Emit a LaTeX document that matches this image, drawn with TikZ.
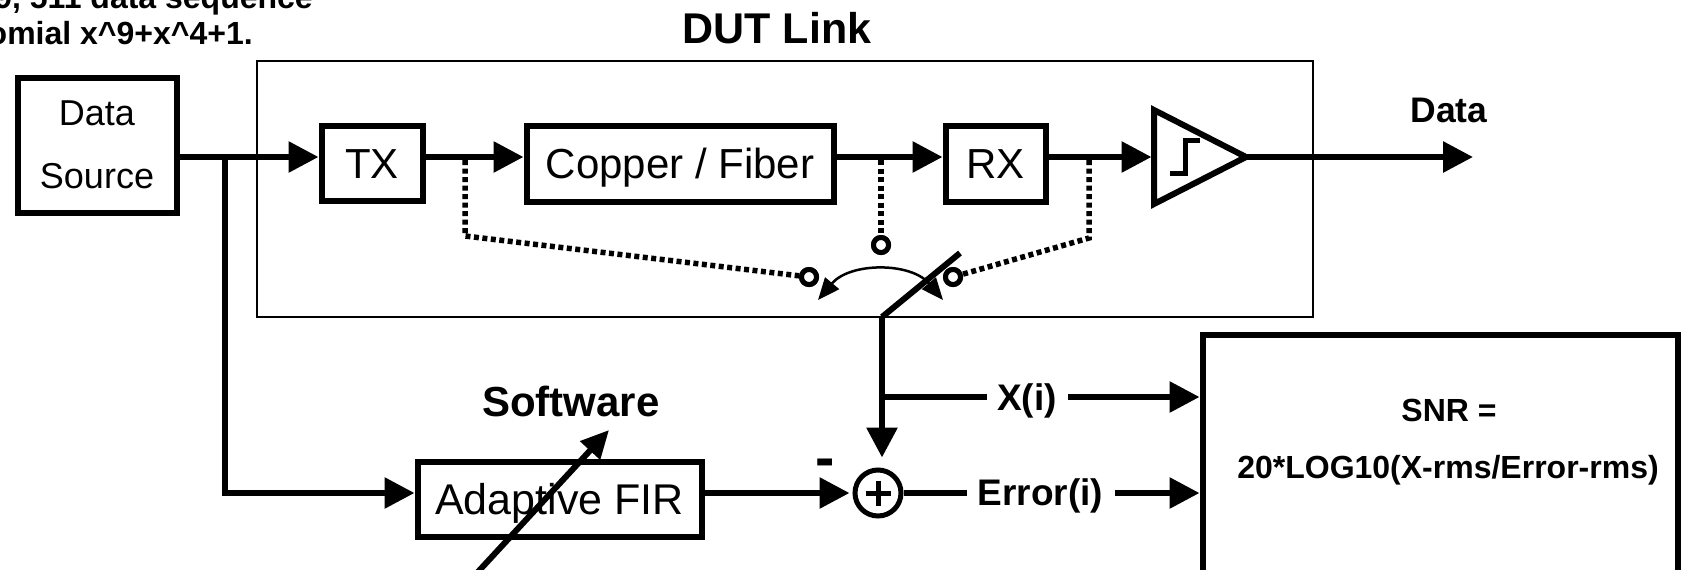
\documentclass[tikz,border=0pt]{standalone}
\usepackage{fontspec}
\setmainfont{Liberation Sans}
\usetikzlibrary{arrows.meta,calc}
\begin{document}
\begin{tikzpicture}[x=1pt,y=-1pt,
  thk/.style={line width=6pt},
  arr/.style={-{Triangle[length=30pt,width=30pt]}},
  blk/.style={draw, line width=6pt, inner sep=0pt},
  dotl/.style={line width=5.5pt, dash pattern=on 5pt off 3.5pt},
  contact/.style={circle, draw, fill=white, line width=5pt, minimum size=15pt, inner sep=0pt},
  boldlab/.style={font=\bfseries\fontsize{37}{44}\selectfont, inner sep=0pt, anchor=base}
]
\useasboundingbox (0,0) rectangle (1681,570);
\clip (0,0) rectangle (1681,570);
\fill[white] (0,0) rectangle (1681,570);

% helper coordinates
\coordinate (ml) at (0,157);
\coordinate (fl) at (0,493);

% clipped note at top left
\node[anchor=base east, inner sep=0pt, font=\bfseries\fontsize{32}{38}\selectfont] (note1) at (313,9) {9, 511 data sequence};
\node[anchor=base east, inner sep=0pt, font=\bfseries\fontsize{32}{38}\selectfont] (note2) at (253,44) {omial x\textasciicircum 9+x\textasciicircum 4+1.};

% DUT link frame
\node[draw, line width=2.5pt, minimum width=1056pt, minimum height=256pt, inner sep=0pt] (dut) at (785,189) {};
\node[anchor=base, inner sep=0pt, font=\bfseries\fontsize{43}{50}\selectfont] (dutl) at (777,43) {DUT Link};

% blocks
\node[blk, minimum width=159pt, minimum height=135pt, align=center, font=\fontsize{36}{63}\selectfont] (src) at (97,145) {Data\\Source};
\node[blk, minimum width=101pt, minimum height=75pt, font=\fontsize{42}{50}\selectfont, text height=30pt, text depth=0pt] (tx) at (372,163) {TX};
\node[blk, minimum width=307pt, minimum height=76pt, font=\fontsize{42}{50}\selectfont, text height=30pt, text depth=0pt] (cu) at (680,163.5) {Copper / Fiber};
\node[blk, minimum width=100pt, minimum height=76pt, font=\fontsize{42}{50}\selectfont, text height=30pt, text depth=0pt] (rx) at (995.5,163.5) {RX};
\node[blk, minimum width=284pt, minimum height=75pt, font=\fontsize{43}{50}\selectfont, text height=31pt, text depth=0pt] (fir) at (559.5,499) {Adaptive FIR};
\node[draw, line width=6pt, minimum width=475pt, minimum height=290pt, inner sep=0pt] (snr) at (1440,479.5) {};
\node[anchor=base, inner sep=0pt, font=\bfseries\fontsize{32}{38}\selectfont] (snr1) at (1449,421) {SNR =};
\node[anchor=base, inner sep=0pt, font=\bfseries\fontsize{32}{38}\selectfont] (snr2) at (1448,478) {20*LOG10(X-rms/Error-rms)};

% comparator
\coordinate (cmpin) at (1151.5,157);
\coordinate (cmpout) at (1246,157);
\draw[thk, line join=miter] (1154,110) -- (1154,204) -- (cmpout) -- cycle;
\draw[line width=5pt] (1170,173) -- (1185,173) -- (1185,140) -- (1200,140);

% main chain
\draw[thk, arr] (src.east |- ml) -- (tx.west |- ml);
\draw[thk, arr] (tx.east |- ml) -- (cu.west |- ml);
\draw[thk, arr] (cu.east |- ml) -- (rx.west |- ml);
\draw[thk, arr] (rx.east |- ml) -- (cmpin);
\coordinate (dout) at (1473,157);
\draw[thk, arr] (cmpout) -- (dout);
\node[anchor=base, inner sep=0pt, font=\bfseries\fontsize{35.5}{42}\selectfont] (datal) at (1449,122) {Data};

% probe points and switch
\coordinate (d1) at (465,160);
\coordinate (d2) at (881,160);
\coordinate (d3) at (1089,160);
\node[contact] (lc) at (809,277) {};
\node[contact] (tc) at (881,245) {};
\node[contact] (rc) at (953,277) {};
\draw[dotl] (d1) -- (465,236) -- (lc);
\draw[dotl] (d2) -- (tc);
\draw[dotl] (d3) -- (1089,238) -- (rc);
\node[contact] at (lc) {};
\node[contact] at (tc) {};
\node[contact] at (rc) {};

\coordinate (sa) at (943,300);
\coordinate (sb) at (818,300);
\draw[line width=2.5pt, {Triangle[length=22pt,width=18pt]}-{Triangle[length=22pt,width=18pt]}] (sb) .. controls (850,262) and (911,262) .. (sa);

\coordinate (lb) at (882,317);
\coordinate (lt) at (960,253);
\draw[thk] (lt) -- (lb);

% summing junction
\node[circle, draw, line width=5pt, minimum size=46pt, inner sep=0pt] (sum) at (878,493) {};
\draw[line width=5pt] ($(sum)+(-12.5,0)$) -- ($(sum)+(12.5,0)$);
\draw[line width=5pt] ($(sum)+(0,-12.5)$) -- ($(sum)+(0,12.5)$);
\node[anchor=base, inner sep=0pt, font=\bfseries\fontsize{58}{60}\selectfont] (minus) at (825,477) {-};

\draw[thk, arr, shorten >=10pt] (lb) -- (lb |- sum.north);
\draw[thk, arr, shorten >=3pt] (fir.east |- fl) -- (sum.west);

% branch to FIR
\coordinate (br) at (225,157);
\draw[thk, arr] (br) |- (fir.west |- fl);

% X(i)
\coordinate (xj) at (882,397);
\node[boldlab] (xl) at (1027,410) {X(i)};
\draw[thk] (xj) -- ([xshift=-10pt]xl.west |- xj);
\draw[thk, arr] ([xshift=11pt]xl.east |- xj) -- (snr.west |- xj);

% Error(i)
\node[boldlab] (el) at (1040.5,505) {Error(i)};
\draw[thk] (sum.east) -- ([xshift=-11pt]el.west |- sum);
\draw[thk, arr] ([xshift=12pt]el.east |- sum) -- (snr.west |- sum);

% Software
\node[anchor=base, inner sep=0pt, font=\bfseries\fontsize{42}{50}\selectfont] (sw) at (571,416) {Software};
\coordinate (swa) at (452,600);
\coordinate (swb) at (609,430);
\draw[thk, -{Triangle[length=28pt,width=26pt]}] (swa) -- (swb);
\end{tikzpicture}
\end{document}
